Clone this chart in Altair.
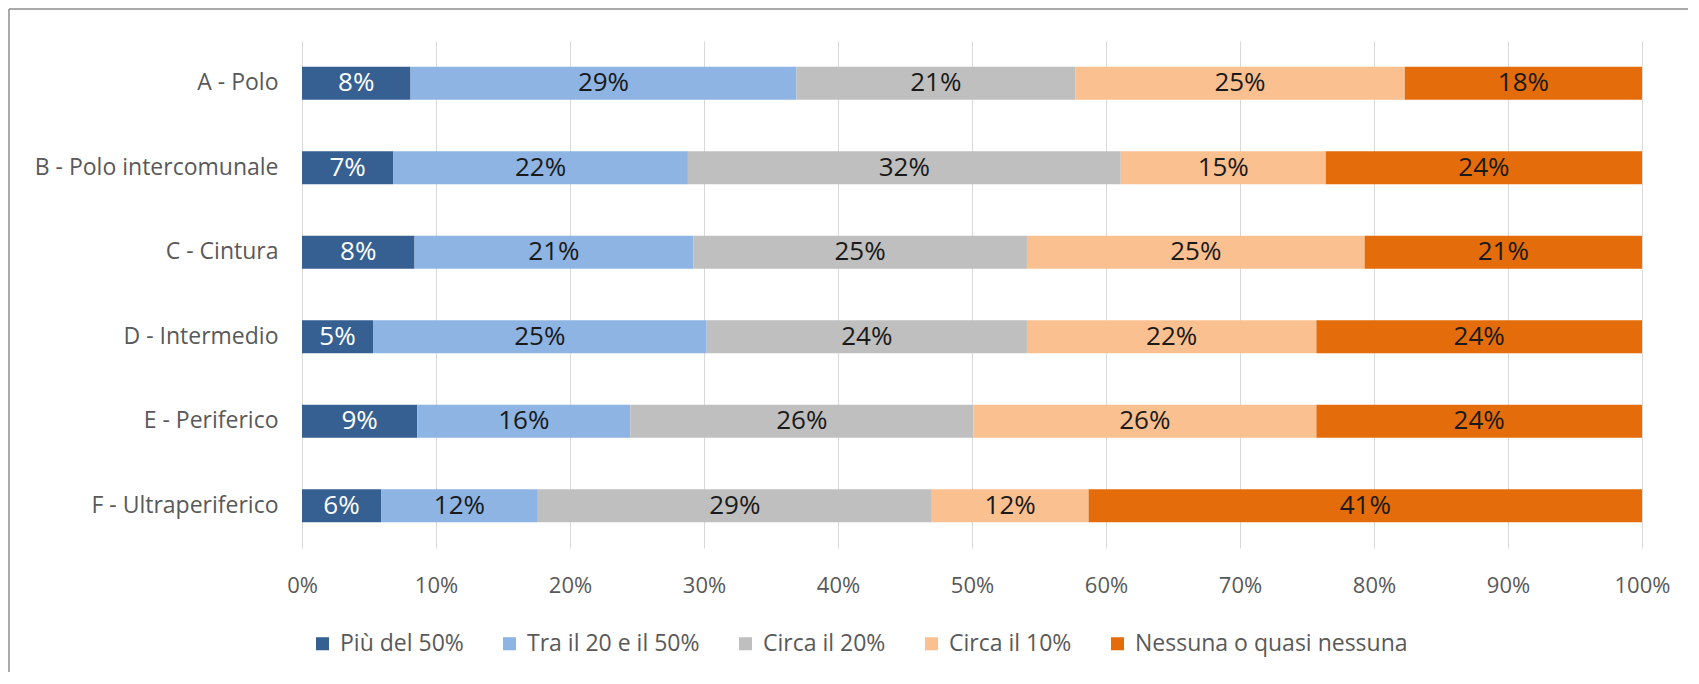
import altair as alt
import pandas as pd

categories = ["A - Polo", "B - Polo intercomunale", "C - Cintura",
              "D - Intermedio", "E - Periferico", "F - Ultraperiferico"]
series = ["Più del 50%", "Tra il 20 e il 50%", "Circa il 20%",
          "Circa il 10%", "Nessuna o quasi nessuna"]
colors = ["#366092", "#8DB4E2", "#BFBFBF", "#FAC090", "#E46C0A"]
label_colors = ["#FFFFFF", "#1A1A1A", "#1A1A1A", "#1A1A1A", "#1A1A1A"]

piu_50 = [8.1, 6.8, 8.4, 5.3, 8.6, 5.9]
tra_20_50 = [28.8, 22.0, 20.8, 24.9, 15.9, 11.7]
circa_20 = [20.8, 32.3, 24.9, 23.9, 25.6, 29.4]
circa_10 = [24.6, 15.3, 25.2, 21.6, 25.6, 11.7]
nessuna = [17.7, 23.6, 20.7, 24.3, 24.3, 41.3]
x_ticks = [0, 10, 20, 30, 40, 50, 60, 70, 80, 90, 100]

values = [piu_50, tra_20_50, circa_20, circa_10, nessuna]
rows = []
for si, (s, vals) in enumerate(zip(series, values)):
    for c, v in zip(categories, vals):
        rows.append({"cat": c, "series": s, "order": si, "value": v,
                     "lc": label_colors[si]})
df = pd.DataFrame(rows)

FONT = "Open Sans"
GRAY = "#595959"

base = alt.Chart(df).transform_stack(
    stack="value", as_=["x0", "x1"], groupby=["cat"],
    sort=[alt.SortField("order", order="ascending")]
).transform_calculate(mid="(datum.x0 + datum.x1) / 2")

y_enc = alt.Y("cat:N", sort=categories, title=None,
              scale=alt.Scale(paddingInner=0.61, paddingOuter=0.305),
              axis=alt.Axis(labelFont=FONT, labelFontSize=23, labelColor=GRAY,
                            labelPadding=24, ticks=False, domain=False,
                            grid=False, labelLimit=400))

bars = base.mark_bar().encode(
    x=alt.X("x0:Q", title=None,
            scale=alt.Scale(domain=[0, 100], nice=False, zero=True),
            axis=alt.Axis(values=x_ticks, labelExpr="datum.value + '%'",
                          labelFont=FONT, labelFontSize=22, labelColor=GRAY,
                          labelPadding=27, labelFlush=False,
                          ticks=False, tickSize=0, domain=False,
                          grid=True, gridColor="#D9D9D9", gridWidth=1)),
    x2="x1:Q",
    y=y_enc,
    color=alt.Color("series:N", sort=series,
                    scale=alt.Scale(domain=series, range=colors),
                    legend=alt.Legend(title=None, orient="none", direction="horizontal",
                                      legendX=9, legendY=591,
                                      symbolType="square", symbolSize=170,
                                      symbolStrokeWidth=0,
                                      labelFont=FONT, labelFontSize=23,
                                      labelColor=GRAY, labelOffset=6,
                                      columnPadding=34, padding=0,
                                      labelLimit=400)),
    order=alt.Order("order:Q"),
)

labels = base.transform_calculate(
    lbl="format(datum.value, '.0f') + '%'"
).mark_text(font=FONT, fontSize=26, baseline="middle", align="center").encode(
    x=alt.X("mid:Q"),
    y=alt.Y("cat:N", sort=categories),
    text="lbl:N",
    color=alt.Color("lc:N", scale=None),
)

border_top = alt.Chart(pd.DataFrame({"a": [0]})).mark_rule(
    color="#8C8C8C", strokeWidth=1.5
).encode(x=alt.value(-293), x2=alt.value(1440), y=alt.value(-32))
border_left = alt.Chart(pd.DataFrame({"a": [0]})).mark_rule(
    color="#8C8C8C", strokeWidth=1.5
).encode(x=alt.value(-293), y=alt.value(-32), y2=alt.value(700))

chart = alt.layer(bars, labels, border_top, border_left).properties(
    width=1340, height=507,
    autosize=alt.AutoSizeParams(type="none"),
    padding={"left": 294, "top": 33, "right": 46, "bottom": 124},
).configure_view(stroke=None)

chart.save("out.html", embed_options={"renderer": "svg", "actions": False})
